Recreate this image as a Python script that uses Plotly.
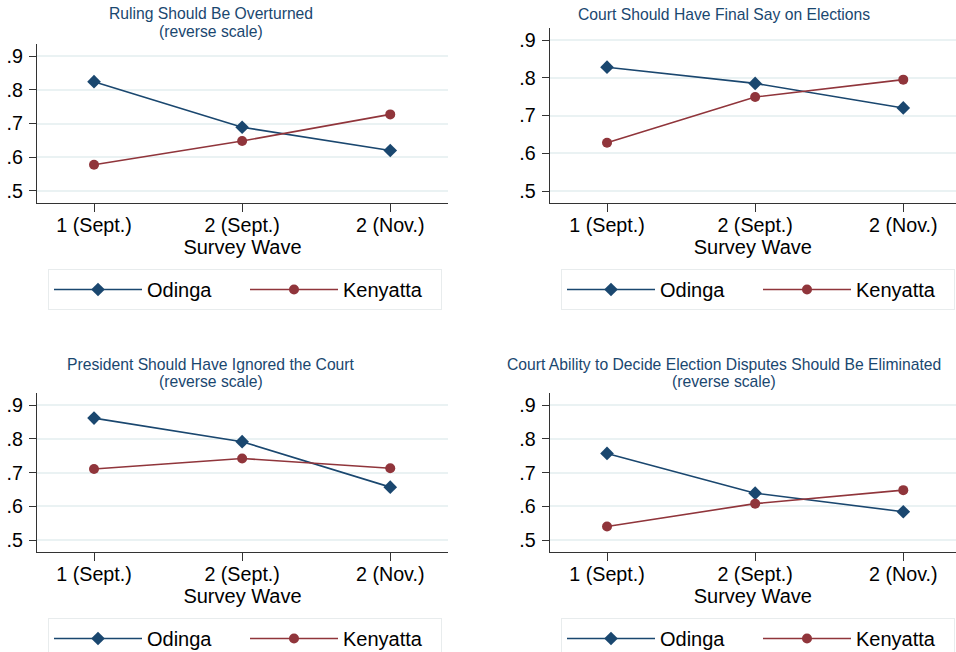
import plotly.graph_objects as go

# ---- data ----
waves = ["1 (Sept.)", "2 (Sept.)", "2 (Nov.)"]
panel_titles = [
    ["Ruling Should Be Overturned", "(reverse scale)"],
    ["Court Should Have Final Say on Elections"],
    ["President Should Have Ignored the Court", "(reverse scale)"],
    ["Court Ability to Decide Election Disputes Should Be Eliminated", "(reverse scale)"],
]
odinga = [
    [0.824, 0.689, 0.620],
    [0.828, 0.785, 0.720],
    [0.862, 0.792, 0.657],
    [0.757, 0.639, 0.584],
]
kenyatta = [
    [0.578, 0.648, 0.727],
    [0.628, 0.749, 0.795],
    [0.711, 0.742, 0.713],
    [0.540, 0.608, 0.648],
]
y_tickvals = [0.5, 0.6, 0.7, 0.8, 0.9]
y_ticktext = [".5", ".6", ".7", ".8", ".9"]
x_title = "Survey Wave"
series_names = ["Odinga", "Kenyatta"]

# ---- style ----
W, H = 956, 652
FONT = "Liberation Sans, Arial, Helvetica, sans-serif"
BLUE = "#1a476f"
RED = "#90353b"
GRID = "#eaf2f3"
AXIS = "#333333"
FS = 19.7
LFS = 20
TFS = 15.7

def px_x(p):
    return p / W

def px_y(p):
    return 1 - p / H

# plot-area pixel boxes (left, right, top, bottom)
boxes = [
    (37, 448, 44, 203),
    (549.7, 956, 28, 203),
    (37, 448, 393.3, 552.3),
    (549.7, 956, 393.3, 552.3),
]
xranges = [[-0.385, 2.39], [-0.387, 2.356], [-0.385, 2.39], [-0.387, 2.356]]
yranges = [[0.4644, 0.9356], [0.4682, 0.9318], [0.4635, 0.9356], [0.4635, 0.9356]]
title_x = [211, 724, 211, 724]
title_y = [[14, 31.5], [15], [364, 381.5], [364, 381.5]]
legend_pos = [(48, 269), (561, 269), (48, 618), (561, 618)]

fig = go.Figure()
layout = dict(
    width=W, height=H,
    margin=dict(l=0, r=0, t=0, b=0, autoexpand=False),
    paper_bgcolor="white", plot_bgcolor="white",
    font=dict(family=FONT, size=FS, color="black"),
    annotations=[],
)

for i in range(4):
    sfx = "" if i == 0 else str(i + 1)
    xa, ya = "x" + sfx, "y" + sfx
    leg = "legend" + sfx
    fig.add_trace(go.Scatter(
        x=waves, y=odinga[i], name=series_names[0], mode="lines+markers",
        line=dict(color=BLUE, width=1.6),
        marker=dict(symbol="diamond", size=10.5, color=BLUE),
        xaxis=xa, yaxis=ya, legend=leg, showlegend=True,
    ))
    fig.add_trace(go.Scatter(
        x=waves, y=kenyatta[i], name=series_names[1], mode="lines+markers",
        line=dict(color=RED, width=1.6),
        marker=dict(symbol="circle", size=10, color=RED),
        xaxis=xa, yaxis=ya, legend=leg, showlegend=True,
    ))
    l, r, t, b = boxes[i]
    layout["xaxis" + sfx] = dict(
        domain=[px_x(l), min(1.0, px_x(r))], anchor=ya,
        type="category", range=xranges[i],
        showline=True, linecolor=AXIS, linewidth=1.3,
        ticks="outside", ticklen=8, tickcolor=AXIS, tickwidth=1.2,
        ticklabelstandoff=-4,
        showgrid=False, zeroline=False, automargin=False,
        tickfont=dict(size=FS, color="black"),
        title=dict(text=x_title, font=dict(size=LFS, color="black"), standoff=1),
    )
    layout["yaxis" + sfx] = dict(
        domain=[px_y(b), px_y(t)], anchor=xa,
        range=yranges[i], tickvals=y_tickvals, ticktext=y_ticktext,
        showline=True, linecolor=AXIS, linewidth=1.3,
        ticks="outside", ticklen=7, tickcolor=AXIS, tickwidth=1.2,
        ticklabelstandoff=2,
        showgrid=True, gridcolor=GRID, gridwidth=1.5, zeroline=False,
        automargin=False,
        tickfont=dict(size=FS, color="black"),
    )
    for j, line in enumerate(panel_titles[i]):
        layout["annotations"].append(dict(
            text=line, x=px_x(title_x[i]), y=px_y(title_y[i][j]),
            xref="paper", yref="paper", xanchor="center", yanchor="middle",
            showarrow=False, font=dict(size=TFS, color=BLUE, family=FONT),
        ))
    lx, ly = legend_pos[i]
    layout[leg] = dict(
        x=px_x(lx), y=px_y(ly), xref="paper", yref="paper",
        xanchor="left", yanchor="top", orientation="h",
        bgcolor="white", bordercolor="#e8eced", borderwidth=1,
        itemwidth=88, entrywidth=93, font=dict(size=LFS, color="black"),
        traceorder="normal",
    )

fig.update_layout(**layout)
fig.write_html(
    "out.html",
    config={"displayModeBar": False},
    post_script="document.body.style.margin='0';document.body.style.overflow='hidden';",
)
